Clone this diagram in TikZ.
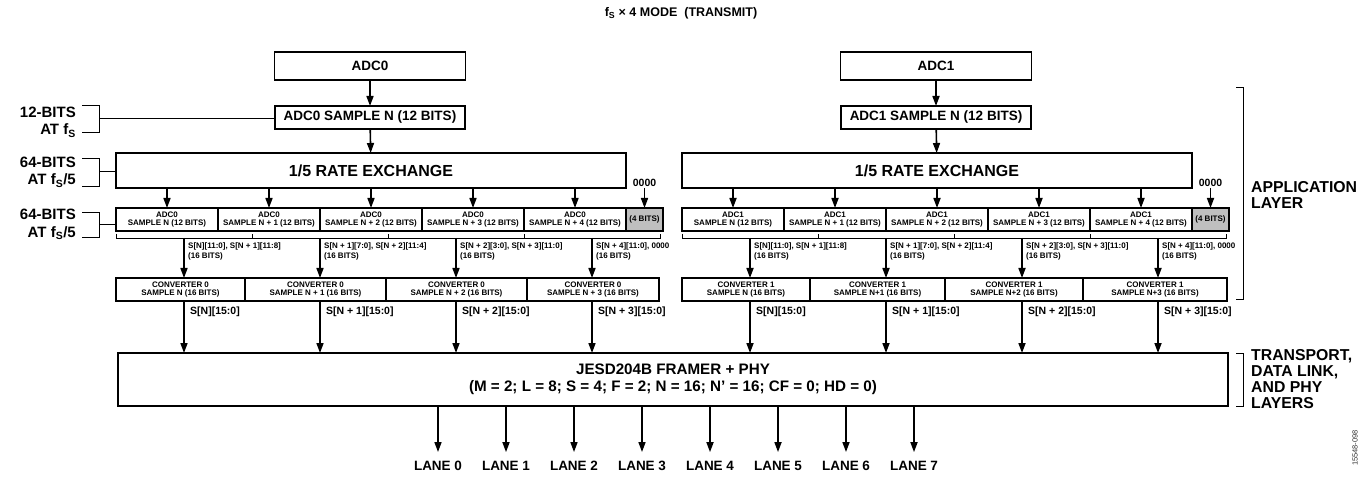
\documentclass[tikz,border=0pt]{standalone}
\usepackage{fontspec}
\setmainfont{Liberation Sans}
\usetikzlibrary{positioning,arrows.meta}

\begin{document}
\begin{tikzpicture}[x=1pt, y=-1pt,
    box/.style={draw, line width=1.6pt, inner sep=0pt, outer sep=0pt, align=center, font=\bfseries\fontsize{13.5}{15}\selectfont},
    cell/.style={box, minimum height=23pt, font=\bfseries\fontsize{8}{8.5}\selectfont},
    padcell/.style={cell, fill=black!25},
    arr/.style={-{Triangle[length=10pt,width=7pt]}, line width=1.6pt},
    brk/.style={line width=0.9pt},
    side/.style={anchor=east, align=right, inner sep=0pt, font=\bfseries\fontsize{15}{17.5}\selectfont},
    layer/.style={anchor=west, align=left, inner sep=0pt, font=\bfseries\fontsize{15.8}{16}\selectfont},
    bitlbl/.style={anchor=north west, align=left, inner sep=0pt, font=\bfseries\fontsize{8}{10}\selectfont},
    wordlbl/.style={anchor=west, inner sep=0pt, font=\bfseries\fontsize{10.5}{12}\selectfont},
  ]
  \useasboundingbox (0,0) rectangle (1362,478);

  \node[font=\bfseries\fontsize{12.5}{14}\selectfont] (title) at (681,13) {f\textsubscript{S} × 4 MODE\ \ (TRANSMIT)};

  % converter 0 path
  \node[box, minimum width=191pt, minimum height=28pt] (adc0) at (370,66) {ADC0};
  \node[box, minimum width=190pt, minimum height=23pt] (smp0) at (370,117.5) {ADC0 SAMPLE N (12 BITS)};
  \node[box, minimum width=510pt, minimum height=35pt, font=\bfseries\fontsize{16}{18}\selectfont] (rate0) at (371,170.5) {1/5 RATE EXCHANGE};
  \node[cell, minimum width=102pt, anchor=north west] (a0s0) at (116,208) {ADC0\\SAMPLE N (12 BITS)};
  \node[cell, minimum width=102pt, right=0pt of a0s0] (a0s1) {ADC0\\SAMPLE N + 1 (12 BITS)};
  \node[cell, minimum width=102pt, right=0pt of a0s1] (a0s2) {ADC0\\SAMPLE N + 2 (12 BITS)};
  \node[cell, minimum width=102pt, right=0pt of a0s2] (a0s3) {ADC0\\SAMPLE N + 3 (12 BITS)};
  \node[cell, minimum width=102pt, right=0pt of a0s3] (a0s4) {ADC0\\SAMPLE N + 4 (12 BITS)};
  \node[padcell, minimum width=37pt, right=0pt of a0s4] (a0pad) {(4 BITS)};
  \node[above=20pt of a0pad, inner sep=1pt, font=\bfseries\fontsize{10.5}{12}\selectfont] (z0) {0000};
  \draw[arr] (adc0) -- (smp0);
  \draw[arr] (smp0) -- (rate0);
  \draw[arr] (a0s0.north |- rate0.south) -- (a0s0.north);
  \draw[arr] (a0s1.north |- rate0.south) -- (a0s1.north);
  \draw[arr] (a0s2.north |- rate0.south) -- (a0s2.north);
  \draw[arr] (a0s3.north |- rate0.south) -- (a0s3.north);
  \draw[arr] (a0s4.north |- rate0.south) -- (a0s4.north);
  \draw[arr] (z0) -- (a0pad);

  \draw[brk] (116,234) -- (116,238) -- (660,238) -- (660,234)
    (252,238) -- (252,234) (388,238) -- (388,234) (524,238) -- (524,234);
  \coordinate (b00) at (184,238);
  \coordinate (b01) at (320,238);
  \coordinate (b02) at (456,238);
  \coordinate (b03) at (592,238);
  \node[bitlbl] (l00) at (188,243) {S[N][11:0], S[N + 1][11:8]\\(16 BITS)};
  \node[bitlbl] (l01) at (324,243) {S[N + 1][7:0], S[N + 2][11:4]\\(16 BITS)};
  \node[bitlbl] (l02) at (460,243) {S[N + 2][3:0], S[N + 3][11:0]\\(16 BITS)};
  \node[bitlbl] (l03) at (596,243) {S[N + 4][11:0], 0000\\(16 BITS)};

  \node[cell, minimum width=129pt, anchor=north west] (c0s0) at (116,278) {CONVERTER 0\\SAMPLE N (16 BITS)};
  \node[cell, minimum width=141pt, right=0pt of c0s0] (c0s1) {CONVERTER 0\\SAMPLE N + 1 (16 BITS)};
  \node[cell, minimum width=141pt, right=0pt of c0s1] (c0s2) {CONVERTER 0\\SAMPLE N + 2 (16 BITS)};
  \node[cell, minimum width=132pt, right=0pt of c0s2] (c0s3) {CONVERTER 0\\SAMPLE N + 3 (16 BITS)};
  \draw[arr] (b00) -- (b00 |- c0s0.north);
  \draw[arr] (b01) -- (b01 |- c0s1.north);
  \draw[arr] (b02) -- (b02 |- c0s2.north);
  \draw[arr] (b03) -- (b03 |- c0s3.north);
  \node[wordlbl] (w00) at (190,312) {S[N][15:0]};
  \node[wordlbl] (w01) at (326,312) {S[N + 1][15:0]};
  \node[wordlbl] (w02) at (462,312) {S[N + 2][15:0]};
  \node[wordlbl] (w03) at (598,312) {S[N + 3][15:0]};

  % converter 1 path
  \node[box, minimum width=191pt, minimum height=28pt] (adc1) at (936,66) {ADC1};
  \node[box, minimum width=190pt, minimum height=23pt] (smp1) at (936,117.5) {ADC1 SAMPLE N (12 BITS)};
  \node[box, minimum width=510pt, minimum height=35pt, font=\bfseries\fontsize{16}{18}\selectfont] (rate1) at (937,170.5) {1/5 RATE EXCHANGE};
  \node[cell, minimum width=102pt, anchor=north west] (a1s0) at (682,208) {ADC1\\SAMPLE N (12 BITS)};
  \node[cell, minimum width=102pt, right=0pt of a1s0] (a1s1) {ADC1\\SAMPLE N + 1 (12 BITS)};
  \node[cell, minimum width=102pt, right=0pt of a1s1] (a1s2) {ADC1\\SAMPLE N + 2 (12 BITS)};
  \node[cell, minimum width=102pt, right=0pt of a1s2] (a1s3) {ADC1\\SAMPLE N + 3 (12 BITS)};
  \node[cell, minimum width=102pt, right=0pt of a1s3] (a1s4) {ADC1\\SAMPLE N + 4 (12 BITS)};
  \node[padcell, minimum width=37pt, right=0pt of a1s4] (a1pad) {(4 BITS)};
  \node[above=20pt of a1pad, inner sep=1pt, font=\bfseries\fontsize{10.5}{12}\selectfont] (z1) {0000};
  \draw[arr] (adc1) -- (smp1);
  \draw[arr] (smp1) -- (rate1);
  \draw[arr] (a1s0.north |- rate1.south) -- (a1s0.north);
  \draw[arr] (a1s1.north |- rate1.south) -- (a1s1.north);
  \draw[arr] (a1s2.north |- rate1.south) -- (a1s2.north);
  \draw[arr] (a1s3.north |- rate1.south) -- (a1s3.north);
  \draw[arr] (a1s4.north |- rate1.south) -- (a1s4.north);
  \draw[arr] (z1) -- (a1pad);

  \draw[brk] (682,234) -- (682,238) -- (1226,238) -- (1226,234)
    (818,238) -- (818,234) (954,238) -- (954,234) (1090,238) -- (1090,234);
  \coordinate (b10) at (750,238);
  \coordinate (b11) at (886,238);
  \coordinate (b12) at (1022,238);
  \coordinate (b13) at (1158,238);
  \node[bitlbl] (l10) at (754,243) {S[N][11:0], S[N + 1][11:8]\\(16 BITS)};
  \node[bitlbl] (l11) at (890,243) {S[N + 1][7:0], S[N + 2][11:4]\\(16 BITS)};
  \node[bitlbl] (l12) at (1026,243) {S[N + 2][3:0], S[N + 3][11:0]\\(16 BITS)};
  \node[bitlbl] (l13) at (1162,243) {S[N + 4][11:0], 0000\\(16 BITS)};

  \node[cell, minimum width=128pt, anchor=north west] (c1s0) at (682,278) {CONVERTER 1\\SAMPLE N (16 BITS)};
  \node[cell, minimum width=135pt, right=0pt of c1s0] (c1s1) {CONVERTER 1\\SAMPLE N+1 (16 BITS)};
  \node[cell, minimum width=138pt, right=0pt of c1s1] (c1s2) {CONVERTER 1\\SAMPLE N+2 (16 BITS)};
  \node[cell, minimum width=144pt, right=0pt of c1s2] (c1s3) {CONVERTER 1\\SAMPLE N+3 (16 BITS)};
  \draw[arr] (b10) -- (b10 |- c1s0.north);
  \draw[arr] (b11) -- (b11 |- c1s1.north);
  \draw[arr] (b12) -- (b12 |- c1s2.north);
  \draw[arr] (b13) -- (b13 |- c1s3.north);
  \node[wordlbl] (w10) at (756,312) {S[N][15:0]};
  \node[wordlbl] (w11) at (892,312) {S[N + 1][15:0]};
  \node[wordlbl] (w12) at (1028,312) {S[N + 2][15:0]};
  \node[wordlbl] (w13) at (1164,312) {S[N + 3][15:0]};

  % framer and lanes
  \node[box, minimum width=1110pt, minimum height=53pt, font=\bfseries\fontsize{15.2}{16.5}\selectfont] (jesd) at (673,379.5)
    {JESD204B FRAMER + PHY\\(M = 2; L = 8; S = 4; F = 2; N = 16; N’ = 16; CF = 0; HD = 0)};
  \draw[arr] (b00 |- c0s0.south) -- (b00 |- jesd.north);
  \draw[arr] (b01 |- c0s1.south) -- (b01 |- jesd.north);
  \draw[arr] (b02 |- c0s2.south) -- (b02 |- jesd.north);
  \draw[arr] (b03 |- c0s3.south) -- (b03 |- jesd.north);
  \draw[arr] (b10 |- c1s0.south) -- (b10 |- jesd.north);
  \draw[arr] (b11 |- c1s1.south) -- (b11 |- jesd.north);
  \draw[arr] (b12 |- c1s2.south) -- (b12 |- jesd.north);
  \draw[arr] (b13 |- c1s3.south) -- (b13 |- jesd.north);
  \foreach \k in {0,...,7} {
    \node[font=\bfseries\fontsize{13.5}{15}\selectfont, inner sep=0pt] (lane\k) at (438+68*\k,466) {LANE \k};
    \draw[arr] (lane\k.north |- jesd.south) -- ([yshift=9pt]lane\k.north);
  }

  % bit-width brackets on the left
  \node[side] (bits12) at (76,122) {12-BITS\\AT f\textsubscript{S}};
  \draw[brk] (82,105) -- (99,105) -- (99,132) -- (82,132);
  \coordinate (m1) at (99,118);
  \draw[brk] (m1) -- (m1 -| smp0.west);
  \node[side] (bits64a) at (76,172) {64-BITS\\AT f\textsubscript{S}/5};
  \draw[brk] (82,158) -- (99,158) -- (99,186) -- (82,186);
  \coordinate (m2) at (99,171);
  \draw[brk] (m2) -- (m2 -| rate0.west);
  \node[side] (bits64b) at (76,224.5) {64-BITS\\AT f\textsubscript{S}/5};
  \draw[brk] (82,212) -- (99,212) -- (99,237) -- (82,237);
  \coordinate (m3) at (99,224);
  \draw[brk] (m3) -- (m3 -| a0s0.west);

  % layer brackets on the right
  \draw[brk] (1236,87) -- (1243,87) -- (1243,299) -- (1236,299);
  \node[layer] (app) at (1251,195) {APPLICATION\\LAYER};
  \draw[brk] (1236,353) -- (1243,353) -- (1243,406) -- (1236,406);
  \node[layer] (tdp) at (1251,379.5) {TRANSPORT,\\DATA LINK,\\AND PHY\\LAYERS};

  \node[rotate=90, inner sep=0pt, font=\fontsize{7.5}{9}\selectfont, text=black!80] (fignum) at (1355,448) {15548-098};
\end{tikzpicture}
\end{document}
